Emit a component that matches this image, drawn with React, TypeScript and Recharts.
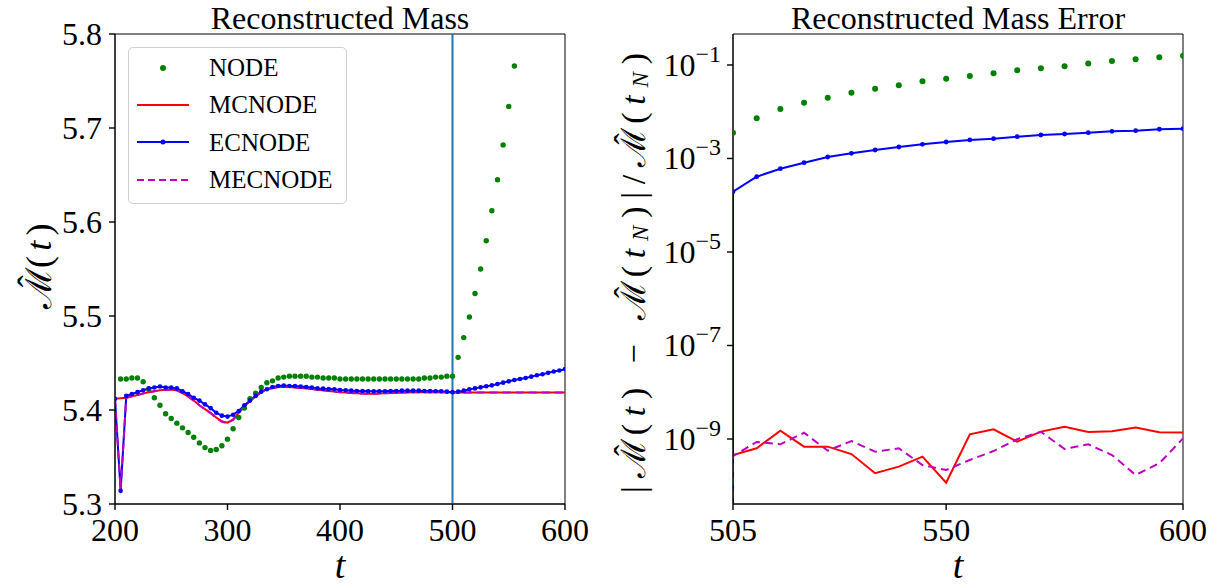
import {
  ComposedChart,
  Legend,
  Line,
  ReferenceArea,
  ReferenceLine,
  XAxis,
  YAxis,
} from "recharts";

const serif = '"Liberation Serif", "DejaVu Serif", serif';

// left panel: reconstructed mass over t
const massTime = [
  200, 205, 210, 215, 220, 225, 230, 235, 240, 245, 250, 255, 260, 265, 270, 275, 280, 285, 290, 295,
  300, 305, 310, 315, 320, 325, 330, 335, 340, 345, 350, 355, 360, 365, 370, 375, 380, 385, 390, 395,
  400, 405, 410, 415, 420, 425, 430, 435, 440, 445, 450, 455, 460, 465, 470, 475, 480, 485, 490, 495,
  500, 505, 510, 515, 520, 525, 530, 535, 540, 545, 550, 555, 560, 565, 570, 575, 580, 585, 590, 595,
  600,
];

const nodeMass = [
  null, 5.433, 5.433, 5.434, 5.434, 5.43, 5.422, 5.413, 5.405, 5.396,
  5.391, 5.386, 5.381, 5.376, 5.371, 5.365, 5.36, 5.357, 5.358, 5.362,
  5.369, 5.38, 5.392, 5.402, 5.412, 5.418, 5.424, 5.429, 5.431, 5.434,
  5.435, 5.436, 5.436, 5.436, 5.436, 5.435, 5.435, 5.434, 5.434, 5.434,
  5.433, 5.433, 5.433, 5.433, 5.433, 5.433, 5.433, 5.433, 5.433, 5.433,
  5.433, 5.433, 5.433, 5.433, 5.433, 5.434, 5.434, 5.435, 5.435, 5.436,
  5.436, 5.456, 5.477, 5.499, 5.524, 5.55, 5.58, 5.612, 5.645, 5.682,
  5.723, 5.766, null, null, null, null, null, null, null, null,
  null,
];

const mcnodeMass = [
  5.412, 5.4125, 5.413, 5.4145, 5.416, 5.4175, 5.419, 5.42, 5.421, 5.4215,
  5.4215, 5.421, 5.418, 5.4145, 5.41, 5.405, 5.401, 5.397, 5.392, 5.388,
  5.3865, 5.39, 5.397, 5.404, 5.4095, 5.4145, 5.419, 5.422, 5.4235, 5.4245,
  5.4248, 5.4245, 5.424, 5.4235, 5.423, 5.4222, 5.4215, 5.421, 5.4203, 5.4197,
  5.419, 5.4185, 5.418, 5.4177, 5.4175, 5.4174, 5.4174, 5.4175, 5.4177, 5.418,
  5.4182, 5.4185, 5.4187, 5.4188, 5.4189, 5.419, 5.419, 5.419, 5.4189, 5.4188,
  5.4187, 5.4186, 5.4186, 5.4186, 5.4186, 5.4186, 5.4186, 5.4186, 5.4186, 5.4186,
  5.4186, 5.4186, 5.4186, 5.4186, 5.4186, 5.4186, 5.4186, 5.4186, 5.4186, 5.4186,
  5.4186,
];

const ecnodeMass = [
  5.412, 5.314, 5.415, 5.417, 5.419, 5.421, 5.423, 5.424, 5.425, 5.424,
  5.424, 5.423, 5.42, 5.417, 5.413, 5.41, 5.406, 5.402, 5.397, 5.394,
  5.393, 5.395, 5.399, 5.405, 5.41, 5.415, 5.4195, 5.422, 5.4245, 5.4255,
  5.426, 5.4255, 5.4255, 5.425, 5.4245, 5.424, 5.423, 5.4227, 5.4223, 5.422,
  5.4213, 5.421, 5.4206, 5.4202, 5.4202, 5.42, 5.42, 5.42, 5.42, 5.4202,
  5.4202, 5.4206, 5.4206, 5.4206, 5.4206, 5.4202, 5.4202, 5.42, 5.42, 5.4195,
  5.419, 5.4195, 5.4206, 5.422, 5.423, 5.4241, 5.4252, 5.4262, 5.4277, 5.4291,
  5.4305, 5.4319, 5.433, 5.434, 5.4355, 5.437, 5.438, 5.4395, 5.441, 5.442,
  5.4435,
];

const mecnodeMass = [
  5.412, 5.315, 5.413, 5.4145, 5.416, 5.4175, 5.419, 5.42, 5.421, 5.4215,
  5.4215, 5.421, 5.418, 5.4145, 5.41, 5.405, 5.4005, 5.3965, 5.3915, 5.3875,
  5.386, 5.3895, 5.397, 5.404, 5.4095, 5.4145, 5.419, 5.422, 5.4235, 5.4245,
  5.4248, 5.4245, 5.424, 5.4235, 5.423, 5.4222, 5.4215, 5.421, 5.4203, 5.4197,
  5.419, 5.4185, 5.418, 5.4177, 5.4175, 5.4174, 5.4174, 5.4175, 5.4177, 5.418,
  5.4182, 5.4185, 5.4187, 5.4188, 5.4189, 5.419, 5.419, 5.419, 5.4189, 5.4188,
  5.4187, 5.4186, 5.4186, 5.4186, 5.4186, 5.4186, 5.4186, 5.4186, 5.4186, 5.4186,
  5.4186, 5.4186, 5.4186, 5.4186, 5.4186, 5.4186, 5.4186, 5.4186, 5.4186, 5.4186,
  5.4186,
];

const massTicksX = [200, 300, 400, 500, 600];
const massTicksY = [5.3, 5.4, 5.5, 5.6, 5.7, 5.8];
const trainEnd = 500;

// right panel: relative error after t_N
const errTime = [505, 510, 515, 520, 525, 530, 535, 540, 545, 550, 555, 560, 565, 570, 575, 580, 585, 590, 595, 600];
const nodeErr = [
  3.56e-3, 7.24e-3, 1.145e-2, 1.56e-2, 2.0e-2, 2.56e-2, 3.12e-2, 3.68e-2, 4.49e-2, 5.1e-2,
  5.82e-2, 6.64e-2, 7.7e-2, 8.49e-2, 9.4e-2, 0.107, 0.121, 0.133, 0.146, 0.157,
];
const mcnodeErr = [
  4.55e-10, 6.32e-10, 1.51e-9, 6.86e-10, 6.86e-10, 4.77e-10, 1.85e-10, 2.56e-10, 4.19e-10, 1.16e-10,
  1.26e-9, 1.61e-9, 8.77e-10, 1.44e-9, 1.83e-9, 1.41e-9, 1.46e-9, 1.75e-9, 1.39e-9, 1.37e-9,
];
const ecnodeErr = [
  1.95e-4, 4.08e-4, 6.05e-4, 8.13e-4, 1.076e-3, 1.29e-3, 1.52e-3, 1.76e-3, 2.01e-3, 2.25e-3,
  2.49e-3, 2.65e-3, 2.93e-3, 3.18e-3, 3.34e-3, 3.56e-3, 3.82e-3, 3.94e-3, 4.22e-3, 4.34e-3,
];
const mecnodeErr = [
  4.32e-10, 8.63e-10, 7.7e-10, 1.36e-9, 5.62e-10, 9.06e-10, 5.34e-10, 6.32e-10, 2.78e-10, 2.17e-10,
  3.56e-10, 5.53e-10, 9.87e-10, 1.43e-9, 6.11e-10, 7.7e-10, 4.55e-10, 1.7e-10, 3.02e-10, 1.03e-9,
];
const errTicksX = [505, 550, 600];
const errTicksY = [1e-9, 1e-7, 1e-5, 1e-3, 1e-1];
const errDomain = [4.07e-11, 0.46];
// error is exactly zero at t_N; log axis can't show 0, so it drops below the frame
const zeroErr = 1e-20;

const series = [
  { key: "node", name: "NODE", color: "#008000" },
  { key: "mcnode", name: "MCNODE", color: "#ff0000" },
  { key: "ecnode", name: "ECNODE", color: "#0000ff" },
  { key: "mecnode", name: "MECNODE", color: "#bf00bf" },
];

const massRows = massTime.map((t, i) => ({
  t,
  node: nodeMass[i],
  mcnode: mcnodeMass[i],
  ecnode: ecnodeMass[i],
  mecnode: mecnodeMass[i],
}));

const errRows = [
  { t: errTime[0], node: null, mcnode: zeroErr, ecnode: zeroErr, mecnode: zeroErr },
  ...errTime.map((t, i) => ({
    t,
    node: nodeErr[i],
    mcnode: mcnodeErr[i],
    ecnode: ecnodeErr[i],
    mecnode: mecnodeErr[i],
  })),
];

const tickStyle = { fontFamily: serif, fontSize: 32, fill: "#000", style: { fontFamily: serif } };

function LegendBox() {
  return (
    <div
      style={{
        width: 219,
        height: 157,
        boxSizing: "border-box",
        border: "1px solid #d0d0d0",
        borderRadius: 5,
        background: "rgba(255,255,255,0.8)",
        fontFamily: serif,
        fontSize: 25,
        paddingTop: 1,
        color: "#000",
      }}
    >
      {series.map((s) => (
        <div key={s.key} style={{ display: "flex", alignItems: "center", height: 37.3 }}>
          <svg width={80} height={20} style={{ flex: "none" }}>
            {s.key !== "node" && (
              <line
                x1={8}
                x2={60}
                y1={10}
                y2={10}
                stroke={s.color}
                strokeWidth={2}
                strokeDasharray={s.key === "mecnode" ? "7 4" : undefined}
              />
            )}
            {(s.key === "node" || s.key === "ecnode") && (
              <circle cx={34} cy={10} r={s.key === "node" ? 3 : 2.5} fill={s.color} />
            )}
          </svg>
          <span style={{ lineHeight: 1 }}>{s.name}</span>
        </div>
      ))}
    </div>
  );
}

function PowerTick({ x, y, payload }: any) {
  const exp = Math.round(Math.log10(payload.value));
  return (
    <text x={x} y={y + 11} textAnchor="end" style={{ fontFamily: serif }} fontSize={32} fill="#000">
      10
      <tspan dy={-14} fontSize={24}>
        {exp < 0 ? "\u2212" : ""}
        {Math.abs(exp)}
      </tspan>
    </text>
  );
}

function ErrDot(props: any) {
  const { cx, cy, index } = props;
  if (index === 0) return <g key={`d${index}`} />;
  return <circle key={`d${index}`} cx={cx} cy={cy} r={2.4} fill="#0000ff" />;
}

// calligraphic M with a hat, as tspans inside a text run
function HatM() {
  return (
    <>
      <tspan>{"\u2133"}</tspan>
      <tspan dx="-0.72em" dy="-0.22em">{"\u02c6"}</tspan>
      <tspan dx="0.05em" dy="0.22em">(</tspan>
    </>
  );
}

function MassPanel() {
  return (
    <ComposedChart width={600} height={586} data={massRows} margin={{ top: 34, right: 35, bottom: 0, left: 0 }}>
      <XAxis
        dataKey="t"
        type="number"
        domain={[200, 600]}
        ticks={massTicksX}
        allowDataOverflow
        height={82}
        tickSize={6}
        tickMargin={8}
        tick={tickStyle}
        axisLine={{ stroke: "#000" }}
        tickLine={{ stroke: "#000", strokeWidth: 1.4 }}
      />
      <YAxis
        type="number"
        domain={[5.3, 5.8]}
        ticks={massTicksY}
        allowDataOverflow
        width={115}
        tickSize={6}
        tickMargin={7}
        tick={tickStyle}
        tickFormatter={(v) => v.toFixed(1)}
        axisLine={{ stroke: "#000" }}
        tickLine={{ stroke: "#000", strokeWidth: 1.4 }}
      />
      <ReferenceArea x1={200} x2={600} y1={5.3} y2={5.8} fill="none" stroke="#000" strokeWidth={1} />
      <Line dataKey="node" name="NODE" stroke="none" isAnimationActive={false} dot={{ r: 2.7, fill: "#008000", stroke: "none" }} activeDot={false} />
      <Line dataKey="mcnode" name="MCNODE" stroke="#ff0000" strokeWidth={2} dot={false} isAnimationActive={false} activeDot={false} />
      <Line dataKey="ecnode" name="ECNODE" stroke="#0000ff" strokeWidth={2} dot={{ r: 2.3, fill: "#0000ff", stroke: "none" }} isAnimationActive={false} activeDot={false} />
      <Line dataKey="mecnode" name="MECNODE" stroke="#bf00bf" strokeWidth={2} strokeDasharray="8 5" dot={false} isAnimationActive={false} activeDot={false} />
      <ReferenceLine x={trainEnd} stroke="#1f77b4" strokeWidth={2} />
      <Legend
        layout="vertical"
        align="center"
        verticalAlign="middle"
        content={() => <LegendBox />}
        wrapperStyle={{ left: 128, top: 47, width: 219, height: 157 }}
      />
    </ComposedChart>
  );
}

function ErrorPanel() {
  return (
    <ComposedChart width={600} height={586} data={errRows} margin={{ top: 34, right: 37, bottom: 0, left: 0 }}>
      <XAxis
        dataKey="t"
        type="number"
        domain={[505, 600]}
        ticks={errTicksX}
        allowDataOverflow
        height={82}
        tickSize={6}
        tickMargin={8}
        tick={tickStyle}
        axisLine={{ stroke: "#000" }}
        tickLine={{ stroke: "#000", strokeWidth: 1.4 }}
      />
      <YAxis
        type="number"
        scale="log"
        domain={errDomain}
        ticks={errTicksY}
        allowDataOverflow
        width={113}
        tickSize={6}
        tickMargin={6}
        tick={<PowerTick />}
        axisLine={{ stroke: "#000" }}
        tickLine={{ stroke: "#000", strokeWidth: 1.4 }}
      />
      <ReferenceArea x1={505} x2={600} y1={errDomain[0]} y2={errDomain[1]} fill="none" stroke="#000" strokeWidth={1} />
      <Line dataKey="node" name="NODE" stroke="none" isAnimationActive={false} dot={{ r: 3, fill: "#008000", stroke: "none" }} activeDot={false} />
      <Line dataKey="mcnode" name="MCNODE" stroke="#ff0000" strokeWidth={2} dot={false} isAnimationActive={false} activeDot={false} />
      <Line dataKey="ecnode" name="ECNODE" stroke="#0000ff" strokeWidth={2} dot={ErrDot} isAnimationActive={false} activeDot={false} />
      <Line dataKey="mecnode" name="MECNODE" stroke="#bf00bf" strokeWidth={2} strokeDasharray="8 5" dot={false} isAnimationActive={false} activeDot={false} />
    </ComposedChart>
  );
}

export default function App() {
  return (
    <div style={{ position: "absolute", left: 0, top: 0, width: 1221, height: 586, background: "#fff" }}>
      <div style={{ position: "absolute", left: 0, top: 0 }}>
        <MassPanel />
      </div>
      <div style={{ position: "absolute", left: 620, top: 0 }}>
        <ErrorPanel />
      </div>
      <svg
        width={1221}
        height={586}
        style={{ position: "absolute", left: 0, top: 0, pointerEvents: "none", fontFamily: serif }}
        fill="#000"
      >
        <text x={340} y={29} textAnchor="middle" fontSize={32}>Reconstructed Mass</text>
        <text x={958} y={29} textAnchor="middle" fontSize={32}>Reconstructed Mass Error</text>
        <text x={340} y={578} textAnchor="middle" fontSize={38} fontStyle="italic">t</text>
        <text x={958} y={578} textAnchor="middle" fontSize={38} fontStyle="italic">t</text>
        <text
          transform="translate(39,266) rotate(-90)"
          textAnchor="middle"
          dominantBaseline="central"
          fontSize={36}
          textLength={85}
          lengthAdjust="spacing"
        >
          <HatM />
          <tspan fontStyle="italic">t</tspan>)
        </text>
        <text
          transform="translate(633,273) rotate(-90)"
          textAnchor="middle"
          dominantBaseline="central"
          fontSize={34}
          textLength={440}
          lengthAdjust="spacing"
        >
          |<HatM />
          <tspan fontStyle="italic">t</tspan>) {"\u2212"} <HatM />
          <tspan fontStyle="italic">t</tspan>
          <tspan dy={7} fontSize={23} fontStyle="italic">N</tspan>
          <tspan dy={-7}>)|/</tspan>
          <HatM />
          <tspan fontStyle="italic">t</tspan>
          <tspan dy={7} fontSize={23} fontStyle="italic">N</tspan>
          <tspan dy={-7}>)</tspan>
        </text>
      </svg>
    </div>
  );
}
